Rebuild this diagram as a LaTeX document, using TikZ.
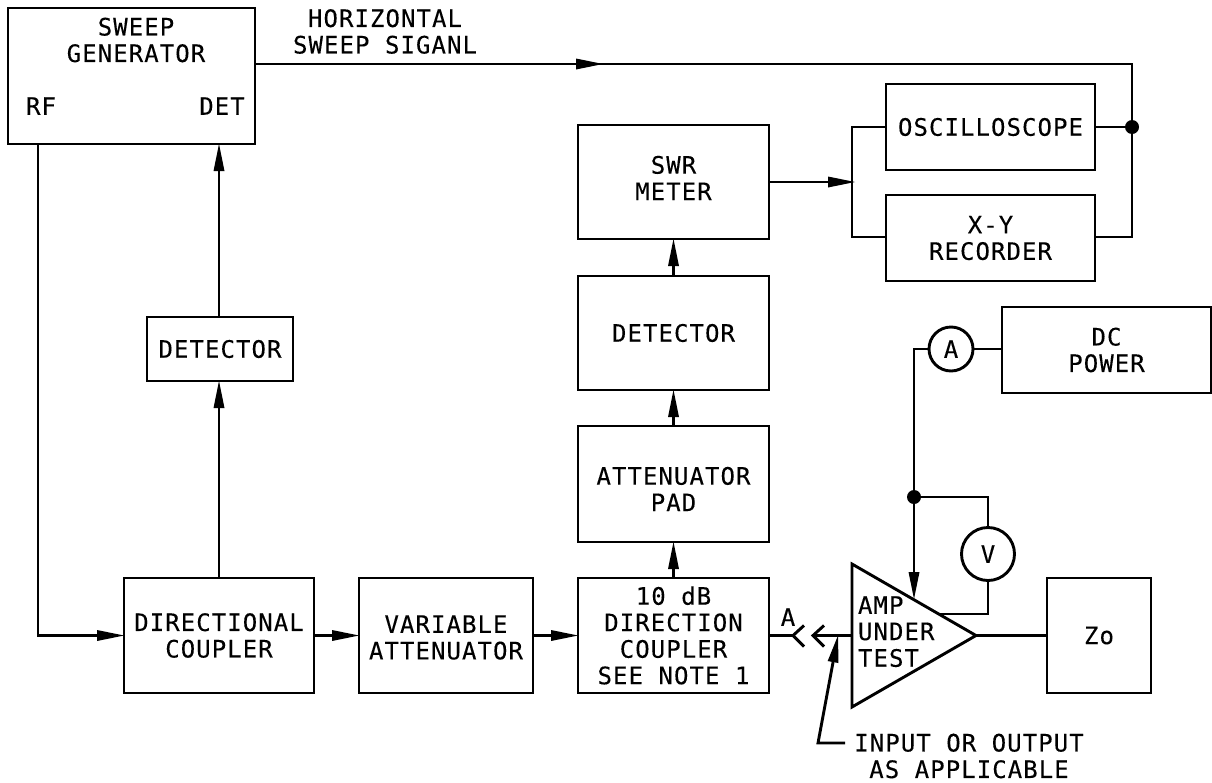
\documentclass[tikz,border=0pt]{standalone}
\usepackage{fontspec}
\usetikzlibrary{arrows.meta,calc}
\newfontfamily\labelfont[LetterSpace=4.4,FakeBold=0.2]{DejaVu Sans Mono}
\tikzset{
  x=1pt,y=-1pt,
  ln/.style={line width=2.9pt,black},
  box/.style={draw,line width=2.9pt,rectangle,outer sep=0pt,inner sep=0pt,align=center,font=\labelfont\fontsize{24}{26.5}\selectfont},
  lab/.style={inner sep=0pt,outer sep=0pt,align=center,font=\labelfont\fontsize{24}{26.5}\selectfont},
  labl/.style={lab,align=left,anchor=west},
  arr/.style={ln,-{Triangle[length=27pt,width=11pt,line width=0pt]}},
  meter/.style={draw,circle,line width=2.9pt,outer sep=0pt,inner sep=0pt,font=\labelfont\fontsize{24}{26.5}\selectfont},
  jdot/.style={fill=black,circle,minimum size=14pt,inner sep=0pt,outer sep=0pt},
}
\begin{document}
\begin{tikzpicture}
\useasboundingbox (0,0) rectangle (1212,782);
% boxes
\node[box,minimum width=247pt,minimum height=136pt] (sweep) at (131.5,76) {};
\node[lab] (sweeptxt) at (136,40) {SWEEP\\GENERATOR};
\node[lab] (rf) at (41,106) {RF};
\node[lab] (det) at (222,106) {DET};
\node[lab] (hor) at (385,31.5) {HORIZONTAL\\SWEEP SIGANL};
\node[box,minimum width=146pt,minimum height=64pt] (detl) at (220,349) {DETECTOR};
\node[box,minimum width=190pt,minimum height=115pt] (dirc) at (219,635.5) {DIRECTIONAL\\COUPLER};
\node[box,minimum width=174pt,minimum height=115pt] (var) at (446,635.5) {};
\node[lab] (vartxt) at (446,637.5) {VARIABLE\\ATTENUATOR};
\node[box,minimum width=191pt,minimum height=115pt] (ten) at (673.5,635.5) {10 dB\\DIRECTION\\COUPLER\\SEE NOTE 1};
\node[box,minimum width=191pt,minimum height=116pt] (pad) at (673.5,484) {};
\node[lab] (padtxt) at (673.5,489) {ATTENUATOR\\PAD};
\node[box,minimum width=191pt,minimum height=114pt] (detm) at (673.5,333) {DETECTOR};
\node[box,minimum width=191pt,minimum height=114pt] (swr) at (673.5,182) {};
\node[lab] (swrtxt) at (673.5,178) {SWR\\METER};
\node[box,minimum width=209pt,minimum height=86pt] (osc) at (990.5,127) {OSCILLOSCOPE};
\node[box,minimum width=209pt,minimum height=86pt] (xy) at (990.5,238) {X-Y\\RECORDER};
\node[box,minimum width=209pt,minimum height=86pt] (dc) at (1106.5,350) {DC\\POWER};
\node[box,minimum width=104pt,minimum height=115pt] (zo) at (1099,635.5) {Zo};
\node[meter,minimum size=44pt] (amm) at (951,349) {A};
\node[meter,minimum size=53pt] (vm) at (988,554) {V};
% amplifier
\coordinate (tria) at (852,564);
\coordinate (trib) at (852,707);
\coordinate (tric) at (976,635.5);
\draw[ln,line join=miter] (tria) -- (tric) -- (trib) -- cycle;
\node[labl] (amp) at (858,605) {AMP};
\node[labl] (under) at (858,631.5) {UNDER};
\node[labl] (test) at (858,658) {TEST};
% junctions
\node[jdot] (j1) at (1132,127) {};
\node[jdot] (j2) at (914,497) {};
% sweep signal
\coordinate (m1) at (603,64);
\coordinate (c1) at (1132,64);
\coordinate (c2) at (1132,237);
\draw[ln] (sweep.east|-m1) -- (c1) -- (j1) -- (c2) -- (xy.east|-c2);
\draw[arr] (sweep.east|-m1) -- (m1);
\draw[ln] (osc.east) -- (j1);
% rf
\coordinate (rfb) at (38,144);
\coordinate (c3) at (38,635.5);
\draw[arr] (rfb) -- (c3) -- (dirc.west);
% main chain
\draw[arr] (dirc.north) -- (detl.south-|dirc.north);
\draw[arr] (detl.north-|dirc.north) -- (sweep.south-|dirc.north);
\draw[arr] (dirc.east) -- (var.west);
\draw[arr] (var.east) -- (ten.west);
\draw[arr] (ten.north) -- (pad.south);
\draw[arr] (pad.north) -- (detm.south);
\draw[arr] (detm.north) -- (swr.south);
% bracket
\coordinate (b1) at (852,127);
\coordinate (b2) at (852,237);
\coordinate (b3) at (855,182);
\draw[ln] (osc.west) -- (b1) -- (b2) -- (xy.west|-b2);
\draw[arr] (swr.east) -- (b3);
% power
\coordinate (c4) at (914,349);
\coordinate (c5) at (914,599);
\draw[ln] (dc.west|-amm) -- (amm.east);
\draw[ln] (amm.west) -- (c4) -- (j2);
\draw[arr] (j2) -- (c5);
\coordinate (c6) at (988,497);
\coordinate (c7) at (988,614);
\coordinate (c8) at (939,614);
\draw[ln] (j2) -- (c6) -- (vm.north);
\draw[ln] (vm.south) -- (c7) -- (c8);
\draw[ln] (tric) -- (zo.west);
% connector
\coordinate (ca) at (793,635.5);
\coordinate (cb) at (813,635.5);
\coordinate (ct) at (838,635.5);
\coordinate (cbot) at (818,743);
\coordinate (cr) at (845,743);
\draw[ln] (ten.east|-ca) -- (ca);
\draw[ln] (804,625.5) -- (ca) -- (804,646.5);
\draw[ln] (824,625.5) -- (cb) -- (824,646.5);
\draw[ln] (cb) -- (tria|-cb);
\draw[arr] (cr) -- (cbot) -- (ct);
\node[lab] (atxt) at (788,617) {A};
\node[lab] (note) at (969,756) {INPUT OR OUTPUT\\AS APPLICABLE};
\end{tikzpicture}
\end{document}
